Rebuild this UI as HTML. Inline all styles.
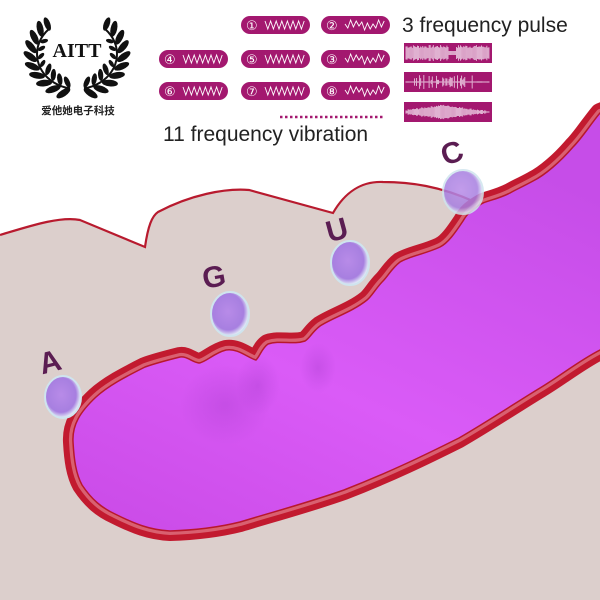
<!DOCTYPE html>
<html><head><meta charset="utf-8"><style>
html,body{margin:0;padding:0;background:#fff}
svg{display:block}
</style></head><body>
<svg id="s" width="600" height="600" viewBox="0 0 600 600" xmlns="http://www.w3.org/2000/svg">
<defs>
<linearGradient id="pg" x1="0" y1="1" x2="0.6" y2="0">
<stop offset="0" stop-color="#c94ae6"/><stop offset="0.45" stop-color="#da5bf7"/><stop offset="1" stop-color="#c64de8"/>
</linearGradient>
<radialGradient id="dim" cx="0.5" cy="0.5" r="0.5">
<stop offset="0" stop-color="#a73ccc" stop-opacity="0.35"/><stop offset="1" stop-color="#a73ccc" stop-opacity="0"/>
</radialGradient>
<radialGradient id="bub" cx="0.45" cy="0.45" r="0.55">
<stop offset="0" stop-color="#b88be8"/><stop offset="0.75" stop-color="#a77fe0"/><stop offset="1" stop-color="#e6f2f8"/>
</radialGradient>
<path id="bp" d="M620,105 L600,113 C590,125 582,138 573,147 C560,162 545,175 533,181 C522,187 515,190 510,193 C498,199 490,200 483,203 C472,209 467,214 463,221 C455,233 448,243 440,247 C425,254 410,256 400,262 C392,268 388,276 383,281 C376,288 372,296 367,300 C352,312 332,318 320,326 C312,332 310,338 305,341 C293,345 280,340 268,344 C262,348 260,356 256,360 C248,358 238,348 226,350 C214,353 206,362 199,363 C192,362 187,356 180,357 C168,360 156,363 145,367 C125,377 108,386 96,397 C80,412 72,425 73,442 C74,460 76,474 82,485 C92,500 102,508 115,514 C135,524 150,530 170,531 C200,530 220,527 240,522 C280,510 310,502 344,490 C390,472 425,455 459,438 C490,420 520,400 540,388 C560,376 580,360 600,350 L620,340 Z"/>
</defs>
<path d="M0,235 C30,226 60,216 80,220 L145,247 C148,226 152,216 158,212 C190,195 225,188 249,190 L333,213 C345,192 362,181 383,182 C410,182 440,186 475,202 L600,140 L600,600 L0,600 Z" fill="#dccfcc"/>
<path d="M0,235 C30,226 60,216 80,220 L145,247 C148,226 152,216 158,212 C190,195 225,188 249,190 L333,213 C345,192 362,181 383,182 C410,182 440,186 475,202" fill="none" stroke="#b81a2e" stroke-width="2.2"/>
<use href="#bp" fill="url(#pg)" stroke="#c21a2f" stroke-width="20" stroke-linejoin="round"/>
<use href="#bp" fill="none" stroke="#d96070" stroke-width="8" stroke-linejoin="round"/>
<use href="#bp" fill="url(#pg)" stroke="#b8182c" stroke-width="1.5"/>
<ellipse cx="225" cy="405" rx="45" ry="40" fill="url(#dim)"/>
<ellipse cx="258" cy="385" rx="22" ry="30" fill="url(#dim)"/>
<ellipse cx="318" cy="368" rx="18" ry="25" fill="url(#dim)"/>
<g stroke="#cfe4ee" stroke-width="2">
<ellipse cx="63" cy="397" rx="18" ry="21" fill="url(#bub)"/>
<ellipse cx="230" cy="314" rx="19" ry="22" fill="url(#bub)"/>
<ellipse cx="350" cy="263" rx="19" ry="22" fill="url(#bub)"/>
<ellipse cx="463" cy="192" rx="20" ry="22" fill="url(#bub)" opacity="0.85"/>
</g>
<g font-family="Liberation Sans, sans-serif" font-weight="bold" font-size="30" fill="#5b1d52">
<text x="50" y="372" text-anchor="middle" transform="rotate(-15 50 362)">A</text>
<text x="214" y="287" text-anchor="middle" transform="rotate(-10 214 277)">G</text>
<text x="337" y="240" text-anchor="middle" transform="rotate(-15 337 230)">U</text>
<text x="452" y="163" text-anchor="middle" transform="rotate(-20 452 153)">C</text>
</g>
<g id="wreath"></g>
<text x="77" y="57" text-anchor="middle" font-family="Liberation Serif, serif" font-weight="bold" font-size="20" fill="#111">AITT</text>
<text x="78" y="114" text-anchor="middle" font-family="Liberation Sans, 'Noto Sans CJK SC', sans-serif" font-weight="bold" font-size="10.5" fill="#222">爱他她电子科技</text>
<g id="pills"></g>
<g id="pulse"></g>
<text x="402" y="32" font-family="Liberation Sans, sans-serif" font-size="21" fill="#222">3 frequency pulse</text>
<text x="163" y="141" font-family="Liberation Sans, sans-serif" font-size="21" fill="#222">11 frequency vibration</text>
<line x1="280" y1="117" x2="385" y2="117" stroke="#a3186f" stroke-width="2.5" stroke-dasharray="2.5 2.5"/>
</svg>
<script>
var NS="http://www.w3.org/2000/svg";
function el(p,t,a){var e=document.createElementNS(NS,t);for(var k in a)e.setAttribute(k,a[k]);p.appendChild(e);return e;}
var w=document.getElementById("wreath");
var CX=77,CY=54,RX=40,RY=35;
function pt(phi,k){var r=phi*Math.PI/180;return [CX+Math.cos(r)*RX*k,CY+Math.sin(r)*RY*k];}
[[100,225,1],[80,-45,-1]].forEach(function(br){
 var a0=br[0],a1=br[1],dir=br[2];
 var sp=[];
 for(var i=0;i<=20;i++){var ph=a0+(a1-a0)*i/20;var q=pt(ph,1);sp.push(q[0]+","+q[1]);}
 el(w,"polyline",{points:sp.join(" "),fill:"none",stroke:"#111","stroke-width":"2"});
 for(var i=0;i<9;i++){
  var ph=a0+(a1-a0)*(i+0.5)/9;
  var o=pt(ph,1.17);
  el(w,"ellipse",{cx:o[0],cy:o[1],rx:8,ry:3.3,fill:"#111",transform:"rotate("+(ph+dir*40)+" "+o[0]+" "+o[1]+")"});
  if(i>0&&i<8&&(ph>150&&ph<215||ph<30&&ph>-35)){var n=pt(ph,0.9);el(w,"ellipse",{cx:n[0],cy:n[1],rx:4,ry:2,fill:"#111",transform:"rotate("+(ph-dir*40)+" "+n[0]+" "+n[1]+")"});}
  if(ph>95&&ph<150||ph<85&&ph>30){var n=pt(ph,0.84);el(w,"ellipse",{cx:n[0],cy:n[1],rx:6,ry:2.6,fill:"#111",transform:"rotate("+(ph-dir*40)+" "+n[0]+" "+n[1]+")"});}
 }
 var t=pt(a1,1.05);
 el(w,"ellipse",{cx:t[0],cy:t[1]-4,rx:3,ry:7,fill:"#111",transform:"rotate("+(dir*-20)+" "+t[0]+" "+(t[1]-4)+")"});
});
var p=document.getElementById("pills");
var pills=[[241,16,"①"],[321,16,"②"],[159,50,"④"],[241,50,"⑤"],[321,50,"③"],[159,82,"⑥"],[241,82,"⑦"],[321,82,"⑧"]];
pills.forEach(function(q,idx){
 el(p,"rect",{x:q[0],y:q[1],width:69,height:18,rx:9,fill:"#a3186f"});
 var t=el(p,"text",{x:q[0]+5,y:q[1]+14,"font-family":"Liberation Sans, DejaVu Sans, sans-serif","font-size":"13",fill:"#fff"});t.textContent=q[2];
 var pts=[],x0=q[0]+24,n=14;
 for(var j=0;j<=n;j++){var amp=(idx%3==1)?(1+((j*7)%5)):4;pts.push((x0+j*2.8)+","+(q[1]+9+(j%2?amp:-amp)));}
 el(p,"polyline",{points:pts.join(" "),fill:"none",stroke:"#fff","stroke-width":"0.9"});
});
var u=document.getElementById("pulse");
var seed=7;function rnd(){seed=(seed*9301+49297)%233280;return seed/233280;}
[[43,0],[72,1],[102,2]].forEach(function(b){
 el(u,"rect",{x:404,y:b[0],width:88,height:20,fill:"#a3186f"});
 for(var j=0;j<80;j++){
  var x=406+j*1.05,h;
  if(b[1]==0)h=(j>40&&j<48)?2:5+rnd()*3;
  else if(b[1]==1)h=rnd()<0.35?2+rnd()*5:0.6;
  else h=Math.max(0.6,6-Math.abs(j-35)/7+rnd()*1.5);
  el(u,"line",{x1:x,y1:b[0]+10-h,x2:x,y2:b[0]+10+h,stroke:"#f0d8ea","stroke-width":"0.8"});
 }
});
</script>
</body></html>
